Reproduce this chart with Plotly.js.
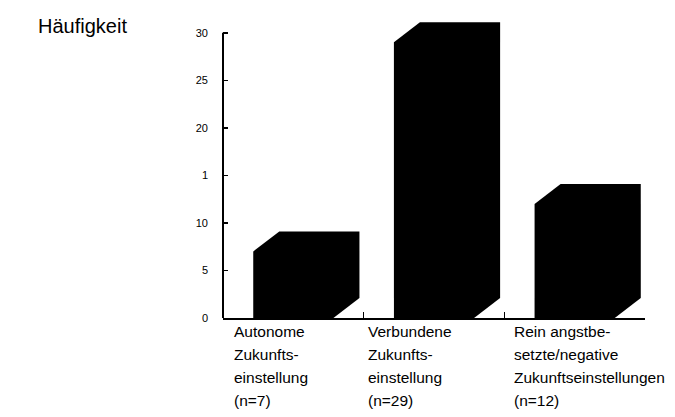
<!DOCTYPE html>
<html>
<head>
<meta charset="utf-8">
<script src="https://cdn.plot.ly/plotly-3.0.1.min.js"></script>
<style>html,body{margin:0;padding:0;background:#fff;}#chart{width:675px;height:417px;}</style>
</head>
<body>
<div id="chart"></div>
<script>
// ---- data ----
const categoryLines = [
  ["Autonome", "Zukunfts-", "einstellung", "(n=7)"],
  ["Verbundene", "Zukunfts-", "einstellung", "(n=29)"],
  ["Rein angstbe-", "setzte/negative", "Zukunftseinstellungen", "(n=12)"]
];
const counts = [7, 29, 12];
const yTickVals = [0, 5, 10, 15, 20, 25, 30];
const yTickText = ["0", "5", "10", "1", "20", "25", "30"];
const yAxisTitle = "Häufigkeit";

// ---- style / geometry ----
const FONT = "Liberation Sans, Arial, sans-serif";
const halfW = 0.285;   // half width of front face (category units)
const depthX = 0.185;  // 3D depth offset in x (category units)
const depthY = 2.1;    // 3D depth offset in y (value units)
const labelOffsets = [-0.436, -0.484, -0.446];

const traces = counts.map((v, i) => {
  const x0 = i - halfW, x1 = i + halfW;
  return {
    type: "scatter",
    mode: "lines",
    x: [x0, x0, x0 + depthX, x1 + depthX, x1 + depthX, x1, x0],
    y: [0, v, v + depthY, v + depthY, depthY, 0, 0],
    fill: "toself",
    fillcolor: "#000",
    line: {width: 0, color: "#000"},
    hoverinfo: "skip",
    showlegend: false
  };
});

const plotTop = 9, plotBottom = 318, plotH = plotBottom - plotTop;
const annotations = [];
categoryLines.forEach((lines, i) => {
  lines.forEach((t, k) => {
    const py = 331 + k * 23.3;
    annotations.push({
      text: t, xref: "x", yref: "paper",
      x: i + labelOffsets[i], y: (plotBottom - py) / plotH,
      xanchor: "left", yanchor: "middle", showarrow: false,
      font: {family: FONT, size: 15.5, color: "#000"}
    });
  });
});
annotations.push({
  text: yAxisTitle, xref: "paper", yref: "paper",
  x: (36 - 223) / 422, y: (plotBottom - 26) / plotH,
  xanchor: "left", yanchor: "middle", showarrow: false,
  font: {family: FONT, size: 20, color: "#000"}
});

const layout = {
  width: 675, height: 417,
  margin: {l: 223, r: 30, t: plotTop, b: 417 - plotBottom, pad: 0},
  paper_bgcolor: "#fff", plot_bgcolor: "#fff",
  font: {family: FONT, color: "#000"},
  xaxis: {
    range: [-0.5, 2.5], showline: true, linecolor: "#000", linewidth: 1.5,
    tickvals: [0.5, 1.5, 2.5], ticks: "inside", ticklen: 6, tickwidth: 1.5,
    tickcolor: "#000", showticklabels: false, showgrid: false, zeroline: false,
    fixedrange: true
  },
  yaxis: {
    range: [0, 32.5], showline: false,
    tickvals: yTickVals, ticktext: yTickText, ticks: "inside", ticklen: 5,
    tickwidth: 1.5, tickcolor: "#000", ticklabelstandoff: 14,
    tickfont: {family: FONT, size: 11, color: "#000"},
    showgrid: false, zeroline: false, fixedrange: true
  },
  shapes: [{
    type: "line", xref: "paper", yref: "y", x0: 0, x1: 0, y0: 0, y1: 30,
    line: {color: "#000", width: 2}
  }],
  annotations: annotations
};

Plotly.newPlot("chart", traces, layout, {staticPlot: true, displayModeBar: false});
</script>
</body>
</html>
